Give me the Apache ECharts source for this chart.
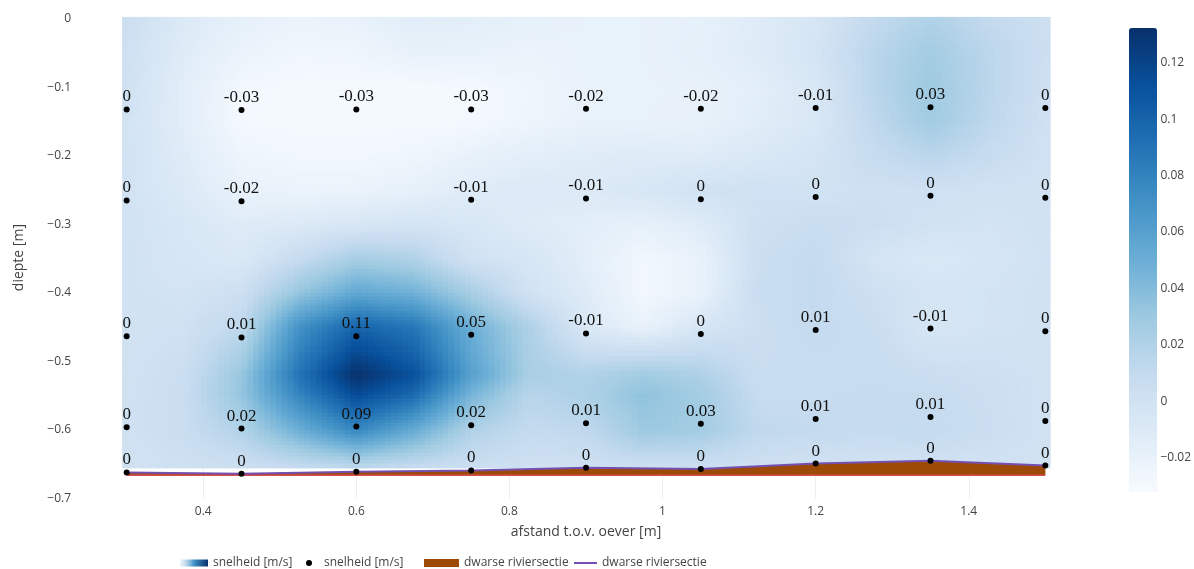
<!DOCTYPE html>
<html><head><meta charset="utf-8">
<script src="https://cdn.jsdelivr.net/npm/echarts@6/dist/echarts.min.js"></script>
<style>html,body{margin:0;padding:0;background:#fff}#c{width:1194px;height:569px}</style>
</head><body><div id="c"></div>
<script>
// ---- meetpunten ----
const afstanden = [0.3, 0.45, 0.6, 0.75, 0.9, 1.05, 1.2, 1.35, 1.5];
const bodemDiepte = [-0.662, -0.664, -0.661, -0.659, -0.655, -0.657, -0.649, -0.645, -0.652];
const bodemOnder = -0.666;
const diepteRij1 = [-0.132, -0.133, -0.132, -0.132, -0.131, -0.131, -0.130, -0.129, -0.130];
const diepteRij2 = [-0.265, -0.266, -0.264, -0.264, -0.262, -0.263, -0.260, -0.258, -0.261];
const diepteRij3 = [-0.463, -0.465, -0.463, -0.461, -0.459, -0.460, -0.454, -0.452, -0.456];
const diepteRij4 = [-0.596, -0.598, -0.595, -0.593, -0.590, -0.591, -0.584, -0.581, -0.587];
const snelheidRij1 = [0, -0.03, -0.03, -0.03, -0.02, -0.02, -0.01, 0.03, 0];
const snelheidRij2 = [0, -0.02, null, -0.01, -0.01, 0, 0, 0, 0];
const snelheidRij3 = [0, 0.01, 0.11, 0.05, -0.01, 0, 0.01, -0.01, 0];
const snelheidRij4 = [0, 0.02, 0.09, 0.02, 0.01, 0.03, 0.01, 0.01, 0];
const snelheidBodem = [0, 0, 0, 0, 0, 0, 0, 0, 0];

// ---- snelheidsveld as displayed (estimated from the picture colours) ----
const rasterX = [0.294, 0.375, 0.45, 0.525, 0.6, 0.675, 0.75, 0.825, 0.9, 0.975, 1.05, 1.125, 1.2, 1.275, 1.35, 1.425, 1.506];
const rasterDiepte = [0.003, -0.05, -0.1, -0.15, -0.2, -0.25, -0.3, -0.35, -0.4, -0.45, -0.52, -0.55, -0.6, -0.655];
const rasterSnelheid = [
  [0.005, -0.01, -0.018, -0.022, -0.02, -0.013, -0.015, -0.018, -0.02, -0.02, -0.018, -0.012, -0.005, 0.01, 0.02, 0.01, 0.003],
  [0.003, -0.012, -0.022, -0.026, -0.025, -0.02, -0.02, -0.022, -0.02, -0.02, -0.017, -0.012, -0.003, 0.015, 0.027, 0.015, 0.003],
  [0.002, -0.015, -0.028, -0.03, -0.03, -0.03, -0.029, -0.025, -0.02, -0.02, -0.02, -0.015, -0.007, 0.015, 0.03, 0.015, 0.002],
  [0, -0.015, -0.029, -0.03, -0.03, -0.03, -0.029, -0.024, -0.02, -0.02, -0.019, -0.014, -0.007, 0.012, 0.028, 0.014, 0],
  [0, -0.012, -0.024, -0.027, -0.027, -0.025, -0.02, -0.015, -0.013, -0.012, -0.012, -0.008, -0.003, 0.008, 0.015, 0.008, 0],
  [0, -0.01, -0.02, -0.022, -0.022, -0.018, -0.012, -0.01, -0.01, -0.006, 0, 0.001, 0, 0.002, 0.002, 0, 0],
  [0, -0.006, -0.012, -0.01, -0.006, -0.003, -0.006, -0.012, -0.015, -0.018, -0.012, 0.002, 0.006, 0.004, 0, -0.002, 0],
  [0, -0.005, -0.008, 0.008, 0.025, 0.02, 0, -0.005, -0.015, -0.027, -0.02, 0.005, 0.01, -0.003, -0.008, -0.004, 0],
  [0, -0.002, 0.003, 0.033, 0.055, 0.048, 0.025, 0, -0.012, -0.028, -0.02, 0.006, 0.01, 0.003, -0.003, -0.002, 0],
  [0, 0.001, 0.012, 0.07, 0.1, 0.088, 0.05, 0.022, -0.008, -0.02, -0.005, 0.004, 0.01, 0.006, -0.005, -0.002, 0],
  [0, 0.005, 0.032, 0.09, 0.132, 0.112, 0.06, 0.024, 0.02, 0.028, 0.022, 0.006, 0.007, 0.008, 0.005, 0.003, 0],
  [0, 0.006, 0.033, 0.078, 0.115, 0.095, 0.045, 0.016, 0.022, 0.035, 0.027, 0.008, 0.008, 0.009, 0.008, 0.004, 0],
  [0, 0.006, 0.02, 0.05, 0.078, 0.053, 0.02, 0.01, 0.012, 0.03, 0.027, 0.012, 0.01, 0.009, 0.01, 0.005, 0],
  [0, 0.002, 0.003, 0.008, 0.012, 0.008, 0.004, 0.002, 0.002, 0.004, 0.004, 0.002, 0, 0, 0, 0, 0]
];
const kleurMin = -0.0321, kleurMax = 0.1323;

// ---- tick labels ----
const xTicks = [0.4, 0.6, 0.8, 1, 1.2, 1.4];
const yTicks = [-0.7, -0.6, -0.5, -0.4, -0.3, -0.2, -0.1, 0];
const cbTicks = [-0.02, 0, 0.02, 0.04, 0.06, 0.08, 0.1, 0.12];

const blauw = ['rgb(247,251,255)','rgb(222,235,247)','rgb(198,219,239)','rgb(158,202,225)','rgb(107,174,214)','rgb(66,146,198)','rgb(33,113,181)','rgb(8,81,156)','rgb(8,48,107)'];
const blauwRGB = blauw.map(s => s.match(/\d+/g).map(Number));
function kleur(v) {
  let t = (v - kleurMin) / (kleurMax - kleurMin);
  t = Math.max(0, Math.min(1, t));
  const f = t * (blauwRGB.length - 1);
  const i = Math.min(blauwRGB.length - 2, Math.floor(f));
  const r = f - i;
  const a = blauwRGB[i], b = blauwRGB[i + 1];
  return 'rgb(' + Math.round(a[0] + (b[0] - a[0]) * r) + ',' + Math.round(a[1] + (b[1] - a[1]) * r) + ',' + Math.round(a[2] + (b[2] - a[2]) * r) + ')';
}
const minus = s => String(s).replace('-', '\u2212');
const fmt = v => minus(parseFloat(v.toFixed(3)));

// cells of the raster
const cellen = [];
for (let j = 0; j < rasterDiepte.length - 1; j++) {
  for (let i = 0; i < rasterX.length - 1; i++) {
    cellen.push([rasterX[i], rasterX[i + 1], rasterDiepte[j], rasterDiepte[j + 1],
      rasterSnelheid[j][i], rasterSnelheid[j][i + 1], rasterSnelheid[j + 1][i], rasterSnelheid[j + 1][i + 1]]);
  }
}
function renderCel(params, api) {
  const x0 = api.value(0), x1 = api.value(1), y0 = api.value(2), y1 = api.value(3);
  const a = api.value(4), b = api.value(5), c = api.value(6), d = api.value(7);
  const p0 = api.coord([x0, y0]), p1 = api.coord([x1, y1]);
  const N = 10, w = (p1[0] - p0[0]) / N, h = (p1[1] - p0[1]) / N;
  const children = [];
  for (let m = 0; m < N; m++) {
    for (let n = 0; n < N; n++) {
      const u = (m + 0.5) / N, s = (n + 0.5) / N;
      const v = a * (1 - u) * (1 - s) + b * u * (1 - s) + c * (1 - u) * s + d * u * s;
      children.push({ type: 'rect', shape: { x: p0[0] + m * w, y: p0[1] + n * h, width: w + 0.7, height: h + 0.7 },
        style: { fill: kleur(v) }, silent: true });
    }
  }
  return { type: 'group', children };
}
function renderBodem(params, api) {
  const top = afstanden.map((x, k) => api.coord([x, bodemDiepte[k]]));
  const onder = afstanden.slice().reverse().map(x => api.coord([x, bodemOnder]));
  return { type: 'group', children: [
    { type: 'polygon', shape: { points: top.concat(onder) }, style: { fill: '#9c4a06' } },
    { type: 'polyline', shape: { points: onder }, style: { stroke: '#d64f4f', lineWidth: 1.5, fill: null } }
  ] };
}

const rijen = [[diepteRij1, snelheidRij1], [diepteRij2, snelheidRij2], [diepteRij3, snelheidRij3], [diepteRij4, snelheidRij4], [bodemDiepte, snelheidBodem]];
const punten = [];
rijen.forEach(([dd, vv]) => afstanden.forEach((x, k) => { if (vv[k] !== null) punten.push([x, dd[k], vv[k]]); }));

const txt = { fontFamily: '"Open Sans", sans-serif', fontSize: 12, color: '#444' };
const chart = echarts.init(document.getElementById('c'), null, { renderer: 'canvas' });
chart.setOption({
  backgroundColor: '#fff',
  animation: false,
  grid: [
    { left: 122, top: 16.7, width: 928, height: 481.8 },
    { left: 1129, top: 28, width: 28, height: 464 }
  ],
  xAxis: [
    { type: 'value', gridIndex: 0, min: 0.2939, max: 1.5061,
      axisLine: { show: false }, axisTick: { show: false }, splitLine: { show: false },
      axisLabel: Object.assign({ customValues: xTicks, formatter: fmt, margin: 7 }, txt),
      name: 'afstand t.o.v. oever [m]', nameLocation: 'middle', nameGap: 27,
      nameTextStyle: { fontFamily: '"Open Sans", sans-serif', fontSize: 14, color: '#444' } },
    { type: 'value', gridIndex: 1, show: false, min: 0, max: 1 }
  ],
  yAxis: [
    { type: 'value', gridIndex: 0, min: -0.7, max: 0.0033,
      axisLine: { show: false }, axisTick: { show: false }, splitLine: { show: false },
      axisLabel: Object.assign({ customValues: yTicks, formatter: fmt, margin: 51 }, txt),
      name: 'diepte [m]', nameLocation: 'middle', nameGap: 96,
      nameTextStyle: { fontFamily: '"Open Sans", sans-serif', fontSize: 14, color: '#444' } },
    { type: 'value', gridIndex: 1, position: 'right', min: kleurMin, max: kleurMax,
      axisLine: { show: false }, axisTick: { show: false }, splitLine: { show: false },
      axisLabel: Object.assign({ customValues: cbTicks, formatter: fmt, margin: 4 }, txt) }
  ],
  visualMap: {
    type: 'continuous', min: kleurMin, max: kleurMax, seriesIndex: 0, dimension: 4,
    orient: 'vertical', left: 1129, top: 28, itemWidth: 28, itemHeight: 464,
    calculable: false, padding: 0, text: null, hoverLink: false, inRange: { color: blauw }
  },
  legend: [
    { left: 180, top: 557, padding: 0, itemWidth: 28, itemHeight: 7, textStyle: txt, selectedMode: false,
      data: [{ name: 'snelheid [m/s]', icon: 'rect', itemStyle: { color: { type: 'linear', x: 0, y: 0, x2: 1, y2: 0,
        colorStops: [{ offset: 0, color: 'rgba(198,219,239,0.3)' }, { offset: 0.5, color: 'rgb(66,146,198)' }, { offset: 1, color: 'rgb(8,48,107)' }] } } }] },
    { left: 306, top: 557, padding: 0, itemWidth: 20, itemHeight: 6, textStyle: txt, selectedMode: false,
      data: [{ name: 'snelheid [m/s] ', icon: 'circle', itemStyle: { color: '#000', opacity: 1 } }] },
    { left: 424, top: 557, padding: 0, itemWidth: 35, itemHeight: 8, textStyle: txt, selectedMode: false,
      data: [{ name: 'dwarse riviersectie', icon: 'rect' }] },
    { left: 574, top: 557, padding: 0, itemWidth: 23, itemHeight: 2, textStyle: txt, selectedMode: false,
      data: [{ name: 'dwarse riviersectie ', icon: 'rect', itemStyle: { color: '#7450b0' } }] }
  ],
  series: [
    { name: 'snelheid [m/s]', type: 'custom', xAxisIndex: 0, yAxisIndex: 0, data: cellen, renderItem: renderCel, z: 1, silent: true },
    { name: 'dwarse riviersectie', type: 'custom', xAxisIndex: 0, yAxisIndex: 0, data: [[afstanden[0], bodemDiepte[0]]], renderItem: renderBodem, z: 2,
      itemStyle: { color: '#9c4a06' }, silent: true },
    { name: 'dwarse riviersectie ', type: 'line', xAxisIndex: 0, yAxisIndex: 0, data: afstanden.map((x, k) => [x, bodemDiepte[k]]),
      symbol: 'none', lineStyle: { color: '#7450b0', width: 2 }, itemStyle: { color: '#7450b0' }, z: 3, silent: true,
      markLine: { silent: true, z: 0, symbol: 'none', label: { show: false }, animation: false,
        lineStyle: { color: '#eceff3', width: 1, type: 'solid' },
        data: xTicks.map(v => ({ xAxis: v })) } },
    { name: 'snelheid [m/s] ', type: 'scatter', xAxisIndex: 0, yAxisIndex: 0, data: punten, symbolSize: 6,
      itemStyle: { color: '#000', opacity: 1 }, z: 4, silent: true,
      label: { show: true, position: 'top', distance: 1, formatter: p => String(p.value[2]),
        fontFamily: '"Liberation Serif", "Times New Roman", serif', fontSize: 17, color: '#111' } }
  ]
});
</script></body></html>
